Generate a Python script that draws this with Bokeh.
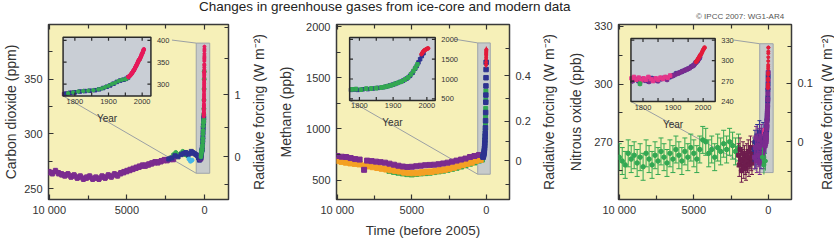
import json
from bokeh.plotting import figure
from bokeh.models import Range1d, LinearAxis, FixedTicker, CustomJSTickFormatter, Div
from bokeh.layouts import row, column
from bokeh.embed import file_html
from bokeh.resources import INLINE

FONT = "Liberation Sans"

# ---------------- ticks / labels ----------------
time_ticks = [10000, 5000, 0]
time_labels = ["10 000", "5000", "0"]
time_minor = [7500, 2500]
year_ticks = [1800, 1900, 2000]
year_minor = [1850, 1950]

co2_ticks = [250, 300, 350]
co2_minor = [275, 325, 375]
co2_rf_pos = [279, 336]
co2_rf_labels = ["0", "1"]
co2_rf_minor = [254, 306, 369, 397]
co2_inset_ticks = [300, 350, 400]

ch4_ticks = [500, 1000, 1500, 2000]
ch4_minor = [750, 1250, 1750]
ch4_rf_pos = [690, 1075, 1520]
ch4_rf_labels = ["0", "0.2", "0.4"]
ch4_rf_minor = [455, 880, 1300, 1785]
ch4_inset_ticks = [500, 1000, 1500, 2000]

n2o_ticks = [270, 300, 330]
n2o_minor = [255, 285, 315]
n2o_rf_pos = [270, 300.5]
n2o_rf_labels = ["0", "0.1"]
n2o_rf_minor = [254.7, 285.3, 319.8]
n2o_inset_ticks = [240, 270, 300, 330]

RF_TITLE = "Radiative forcing (W m\u207b\u00b2)"

# ---------------- CO2 data ----------------
co2_ice_purple_bp = [10000, 9800, 9600, 9400, 9200, 9000, 8800, 8600, 8400, 8200, 8000, 7800, 7600, 7400,
                     7200, 7000, 6800, 6600, 6400, 6200, 6000, 5800, 5600, 5400, 5200, 5000, 4800, 4600,
                     4400, 4200, 4000, 3800, 3600, 3400, 3200, 3000, 2800, 2600, 2400, 2200, 2000]
co2_ice_purple = [265, 264, 266, 264, 263, 262, 263, 261, 262, 260, 261, 259, 260, 261, 259, 260, 259, 261,
                  260, 262, 261, 263, 262, 264, 265, 266, 267, 268, 269, 270, 271, 271, 272, 273, 274, 274,
                  275, 276, 276, 277, 277]
co2_ice_blue_bp = [2300, 2100, 1900, 1700, 1500, 1350, 1200, 1050, 950, 850, 750, 650, 550, 450, 380, 320, 270]
co2_ice_blue = [277, 278, 280, 279, 281, 282, 283, 281, 282, 284, 283, 282, 281, 280, 278, 276, 277]
co2_ice_green_bp = [2200, 2000, 1850, 1700, 1550, 1400, 1250, 1100]
co2_ice_green = [278, 281, 283, 280, 282, 284, 281, 280]
co2_ice_cyan_bp = [1000, 900, 800]
co2_ice_cyan = [277, 275, 276]

co2_purple_yr = [1768, 1775, 1782, 1790, 1797]
co2_purple = [277, 278, 279, 280, 281]
co2_green_yr = [1780, 1795, 1810, 1825, 1840, 1855, 1870, 1880, 1890, 1900, 1910, 1920, 1930, 1940, 1950,
                1955, 1962, 1968, 1975, 1982, 1988, 1993]
co2_green = [279, 281, 283, 284, 285, 286, 288, 290, 293, 296, 300, 303, 307, 310, 311, 313, 318, 323, 331,
             341, 350, 357]
co2_blue_yr = [1772, 1785, 1800, 1815, 1830, 1845, 1860, 1872, 1884, 1895, 1905, 1915, 1925, 1935, 1945, 1952, 1958]
co2_blue = [278, 280, 281, 283, 284, 285, 286, 288, 291, 294, 297, 301, 305, 308, 310, 312, 315]
co2_red_yr = [1959, 1960, 1961, 1962, 1963, 1964, 1965, 1966, 1967, 1968, 1969, 1970, 1971, 1972, 1973, 1974,
              1975, 1976, 1977, 1978, 1979, 1980, 1981, 1982, 1983, 1984, 1985, 1986, 1987, 1988, 1989, 1990,
              1991, 1992, 1993, 1994, 1995, 1996, 1997, 1998, 1999, 2000, 2001, 2002, 2003, 2004, 2005]
co2_red = [316.0, 316.9, 317.6, 318.5, 319.0, 319.6, 320.0, 321.4, 322.2, 323.0, 324.6, 325.7, 326.3, 327.5,
           329.7, 330.2, 331.1, 332.0, 333.8, 335.4, 336.8, 338.7, 340.1, 341.4, 343.0, 344.6, 346.0, 347.4,
           349.2, 351.6, 353.1, 354.4, 355.6, 356.4, 357.1, 358.8, 360.8, 362.6, 363.7, 366.7, 368.4, 369.6,
           371.1, 373.2, 375.8, 377.5, 379.8]

# ---------------- CH4 data ----------------
ch4_purple_bp = [10000, 9700, 9400, 9100, 8800, 8500, 8200, 8000, 7700, 7400, 7100, 6800, 6500, 6200, 5900,
                 5600, 5300, 5000, 4700, 4400, 4100, 3800, 3500, 3200, 2900, 2600, 2300, 2000, 1700, 1400,
                 1100, 800, 500]
ch4_purple = [735, 728, 725, 715, 705, 700, 600, 690, 685, 680, 675, 670, 660, 650, 640, 632, 628, 630, 635,
              640, 645, 648, 650, 655, 662, 670, 680, 690, 700, 710, 725, 735, 745]
ch4_orange_bp = [10000, 9700, 9400, 9100, 8800, 8500, 8200, 7900, 7600, 7300, 7000, 6700, 6400, 6100, 5800,
                 5500, 5200, 4900, 4600, 4300, 4000, 3700, 3400, 3100, 2800, 2500, 2200, 1900, 1600, 1300,
                 1000, 700, 400]
ch4_orange = [690, 680, 672, 665, 660, 655, 640, 635, 628, 620, 612, 605, 598, 592, 585, 575, 570, 568, 570,
              575, 580, 582, 588, 595, 602, 612, 622, 635, 648, 660, 672, 690, 700]
ch4_green_bp = [6500, 6200, 5900, 5600, 5300, 5000, 4700, 4400, 4100, 3800, 3500, 3200, 2900, 2600, 2300,
                2000, 1700, 1400, 1100, 800, 500, 300]
ch4_green = [590, 580, 572, 565, 558, 555, 560, 565, 568, 572, 578, 585, 592, 600, 610, 620, 632, 645, 660,
             672, 690, 700]
ch4_blue_yr = [1775, 1785, 1795, 1810, 1825, 1840, 1855, 1870, 1880, 1890, 1900, 1910, 1920, 1930, 1940,
               1950, 1958, 1965, 1970, 1975, 1980, 1985, 1990]
ch4_blue = [725, 735, 725, 740, 745, 760, 775, 790, 810, 835, 860, 890, 925, 960, 1010, 1080, 1160, 1260,
            1330, 1420, 1500, 1580, 1650]
ch4_green_yr = [1778, 1790, 1805, 1820, 1835, 1850, 1865, 1875, 1885, 1895, 1905, 1915, 1925, 1935, 1945,
                1953, 1960, 1966, 1972]
ch4_green_m = [740, 745, 730, 755, 760, 770, 785, 800, 820, 845, 875, 905, 940, 985, 1040, 1120, 1200, 1280, 1370]
ch4_red_yr = [1984, 1986, 1988, 1990, 1992, 1994, 1996, 1998, 2000, 2002, 2004]
ch4_red = [1625, 1650, 1680, 1700, 1720, 1730, 1740, 1750, 1760, 1770, 1775]

# ---------------- N2O data ----------------
n2o_green_bp = [10000, 9800, 9600, 9400, 9200, 9000, 8800, 8600, 8400, 8200, 8000, 7800, 7600, 7400, 7200,
                7000, 6800, 6600, 6400, 6200, 6000, 5800, 5600, 5400, 5200, 5000, 4800, 4600, 4400, 4200,
                4000, 3800, 3600, 3400, 3200, 3000, 2800, 2600, 2400, 2200, 2000]
n2o_green = [262, 260, 258, 264, 261, 263, 259, 262, 257, 264, 261, 258, 263, 260, 265, 262, 259, 264, 261,
             266, 263, 260, 265, 262, 267, 264, 261, 266, 271, 270, 264, 266, 262, 267, 265, 269, 266, 270,
             268, 265, 267]
n2o_maroon_bp = [2000, 1950, 1900, 1850, 1800, 1750, 1700, 1650, 1600, 1550, 1500, 1450, 1400, 1350, 1300,
                 1250, 1200, 1150, 1100, 1050]
n2o_maroon = [263, 258, 266, 261, 255, 260, 264, 257, 262, 259, 256, 263, 260, 265, 258, 262, 267, 261, 259, 264]
n2o_blue_bp = [950, 900, 850, 800, 750, 700, 650, 600, 550, 500, 450, 400, 350, 300, 250]
n2o_blue = [266, 270, 262, 268, 273, 264, 270, 275, 266, 262, 271, 268, 274, 265, 270]
n2o_purple_bp = [925, 875, 825, 775, 725, 675, 625, 575, 525, 475, 425, 375, 325, 275]
n2o_purple = [262, 267, 272, 260, 268, 263, 271, 259, 267, 273, 264, 270, 262, 268]
n2o_green2_bp = [400, 300, 200]
n2o_green2 = [262, 258, 260]

n2o_pink_yr = [1762, 1770, 1778, 1786, 1794, 1802, 1810, 1818, 1826, 1834, 1842, 1850, 1858, 1866, 1874, 1882, 1890]
n2o_pink = [274, 276, 272, 275, 271, 274, 272, 276, 273, 270, 274, 272, 275, 273, 276, 275, 278]
n2o_purple_yr = [1765, 1775, 1790, 1805, 1820, 1835, 1850, 1865, 1880, 1895, 1905, 1915, 1925, 1935, 1945,
                 1955, 1965, 1972, 1978, 1985, 1990]
n2o_purple_m = [270, 273, 268, 271, 269, 272, 270, 274, 272, 277, 279, 281, 283, 285, 287, 289, 292, 295, 298,
                302, 306]
n2o_blue_yr = [1770, 1785, 1800, 1815, 1830, 1845, 1860, 1875, 1890, 1900, 1910, 1920, 1930, 1940, 1950,
               1960, 1968, 1975, 1982, 1988]
n2o_blue_m = [272, 270, 273, 270, 274, 271, 273, 275, 276, 278, 281, 282, 284, 286, 288, 291, 293, 297, 300, 304]
n2o_green_m_yr = [1790]
n2o_green_m = [266]
n2o_red_yr = [1976, 1978, 1980, 1982, 1984, 1986, 1988, 1990, 1992, 1994, 1996, 1998, 2000, 2002, 2004, 2005]
n2o_red = [298, 299, 300, 302, 303, 305, 306, 308, 309, 310, 312, 314, 316, 317, 319, 319]

# ---------------- style / layout constants ----------------
YELLOW = "#f6f0b8"
INSET_BG = "#c9ced5"
BOX_BG = "#c2c7cd"
BOX_LINE = "#9ea4aa"
CONN = "#9ba0a4"
PURPLE = "#7b2c8f"
BLUE = "#2d3290"
GREEN = "#33a852"
CYAN = "#45b6e6"
RED = "#e6195a"
RED2 = "#e31b3a"
ORANGE = "#f4a024"
MAROON = "#6e1d4e"
PINK = "#e5368a"
INK = "#333333"

FRAME_W = 180
TOP = 3
BOTTOM = 37
FRAME_H = 179
H = TOP + FRAME_H + BOTTOM
HEADER_H = 21
X_START, X_END = 10050, -1550


def lookup_formatter(pos, labels):
    code = ("const pos = " + json.dumps(pos) + "; const lab = " + json.dumps(labels) + ";"
            "let b = 0, d = Infinity;"
            "for (let i = 0; i < pos.length; i++) { const e = Math.abs(pos[i] - tick); if (e < d) { d = e; b = i; } }"
            "return lab[b];")
    return CustomJSTickFormatter(code=code)


def style_axis(ax, fs="11px"):
    ax.axis_line_color = None
    ax.major_tick_in = 5
    ax.major_tick_out = 0
    ax.minor_tick_in = 4
    ax.minor_tick_out = 0
    ax.major_tick_line_color = INK
    ax.minor_tick_line_color = INK
    ax.major_tick_line_width = 1.2
    ax.minor_tick_line_width = 1.2
    ax.major_label_text_font = FONT
    ax.major_label_text_font_size = fs
    ax.major_label_text_color = INK
    ax.axis_label_text_font = FONT
    ax.axis_label_text_font_style = "normal"
    ax.axis_label_text_font_size = "14px"
    ax.axis_label_text_color = INK


def title_only_axis(label, standoff):
    """An axis that carries only a vertical title (reading bottom to top)."""
    ax = LinearAxis(ticker=FixedTicker(ticks=[]))
    style_axis(ax)
    ax.major_tick_in = 0
    ax.minor_tick_in = 0
    ax.major_tick_line_color = None
    ax.minor_tick_line_color = None
    ax.major_label_standoff = 0
    ax.axis_label = label
    ax.axis_label_standoff = standoff
    return ax


def make_panel(width, bl, br, yr, yticks, yminor, ylabel, lstand, rf_pos, rf_labels, rf_minor,
               prev_rf_standoff=None, xlabel=None):
    p = figure(width=width, height=H, x_range=Range1d(X_START, X_END), y_range=Range1d(*yr),
               output_backend="svg", toolbar_location=None,
               min_border_left=bl, min_border_right=br, min_border_top=TOP, min_border_bottom=BOTTOM)
    p.background_fill_color = YELLOW
    p.border_fill_color = "white"
    p.outline_line_color = "#3a3a3a"
    p.outline_line_width = 1.5
    p.grid.visible = False

    xa = p.xaxis[0]
    xa.ticker = FixedTicker(ticks=time_ticks, minor_ticks=time_minor)
    xa.formatter = lookup_formatter(time_ticks, time_labels)
    style_axis(xa)
    xa.major_label_standoff = 4
    if xlabel:
        xa.axis_label = xlabel
        xa.axis_label_standoff = 4
        xa.axis_label_text_font_size = "13.5px"

    ya = p.yaxis[0]
    ya.ticker = FixedTicker(ticks=yticks, minor_ticks=yminor)
    style_axis(ya)
    ya.major_label_standoff = 6
    ya.axis_label = ylabel
    ya.axis_label_standoff = lstand

    # title of the neighbouring panel's radiative-forcing axis (sits just left of this panel)
    if prev_rf_standoff is not None:
        p.add_layout(title_only_axis(RF_TITLE, prev_rf_standoff), "left")

    ra = LinearAxis(ticker=FixedTicker(ticks=rf_pos, minor_ticks=rf_minor),
                    formatter=lookup_formatter(rf_pos, rf_labels))
    style_axis(ra)
    ra.major_label_standoff = 6
    p.add_layout(ra, "right")

    ta = LinearAxis(ticker=FixedTicker(ticks=time_ticks, minor_ticks=time_minor))
    style_axis(ta)
    ta.major_label_text_font_size = "1px"
    ta.major_label_text_color = None
    ta.major_label_standoff = 0
    p.add_layout(ta, "above")
    return p


def pts(p, x, y, color, err=0, size=4, marker="square", rx="default", ry="default", cap=0, lw=1, alpha=1.0):
    x = list(x)
    if err:
        lo = [v - err for v in y]
        hi = [v + err for v in y]
        p.segment(x0=x, y0=lo, x1=x, y1=hi, line_color=color, line_width=lw, line_alpha=alpha,
                  x_range_name=rx, y_range_name=ry)
        if cap:
            p.scatter(x=x + x, y=lo + hi, marker="dash", size=cap, line_color=color, line_width=lw,
                      line_alpha=alpha, x_range_name=rx, y_range_name=ry)
    p.scatter(x=x, y=list(y), marker=marker, size=size, fill_color=color, line_color=color,
              fill_alpha=alpha, line_alpha=alpha, x_range_name=rx, y_range_name=ry)


def bp(years):
    return [2005 - y for y in years]


def setup_inset(p, box, xr, yr):
    fx0, fx1, fy0, fy1 = box
    X0, X1 = xr
    Y0, Y1 = yr
    kx = (X1 - X0) / (fx1 - fx0)
    sx = X0 - fx0 * kx
    ky = (Y1 - Y0) / (fy1 - fy0)
    sy = Y0 - fy0 * ky
    p.extra_x_ranges = {"ix": Range1d(sx, sx + kx), "fx": Range1d(0, 1)}
    p.extra_y_ranges = {"iy": Range1d(sy, sy + ky), "fy": Range1d(0, 1)}


def frac_x(v):
    return (X_START - v) / (X_START - X_END)


def gray_box_and_links(p, yr, gbox, box, link_start):
    bx0, bx1, by0, by1 = gbox
    p.quad(left=[bx0], right=[bx1], bottom=[by0], top=[by1], fill_color=BOX_BG, fill_alpha=0.9,
           line_color=BOX_LINE, line_width=1)
    gy0 = (by0 - yr[0]) / (yr[1] - yr[0])
    gy1 = (by1 - yr[0]) / (yr[1] - yr[0])
    gx0 = frac_x(bx0)
    fx0, fx1, fy0, fy1 = box
    p.segment(x0=[link_start[0], fx0], y0=[link_start[1], fy0], x1=[gx0, gx0], y1=[gy1, gy0],
              line_color=CONN, line_width=1, x_range_name="fx", y_range_name="fy")


def inset_frame(p, box, xr, yr, yt, fill=True):
    X0, X1 = xr
    Y0, Y1 = yr
    if fill:
        p.quad(left=[X0], right=[X1], bottom=[Y0], top=[Y1], fill_color=INSET_BG, line_color=None,
               x_range_name="ix", y_range_name="iy")
        return
    p.quad(left=[X0], right=[X1], bottom=[Y0], top=[Y1], fill_color=None, line_color="#2a2a2a",
           line_width=1.5, x_range_name="ix", y_range_name="iy")
    fx0, fx1, fy0, fy1 = box
    pxw = (fx1 - fx0) * FRAME_W
    pxh = (fy1 - fy0) * FRAME_H
    tx = 3.5 * (X1 - X0) / pxw
    ty = 3.5 * (Y1 - Y0) / pxh
    xt = year_ticks + year_minor
    p.segment(x0=xt + xt, y0=[Y0] * len(xt) + [Y1] * len(xt), x1=xt + xt,
              y1=[Y0 + ty] * len(xt) + [Y1 - ty] * len(xt), line_color="#2a2a2a", line_width=1.2,
              x_range_name="ix", y_range_name="iy")
    yin = [v for v in yt if Y0 < v < Y1]
    p.segment(x0=[X0] * len(yin) + [X1] * len(yin), y0=yin + yin,
              x1=[X0 + tx] * len(yin) + [X1 - tx] * len(yin), y1=yin + yin,
              line_color="#2a2a2a", line_width=1.2, x_range_name="ix", y_range_name="iy")
    p.text(x=[X1] * len(yt), y=yt, text=[str(v) for v in yt], x_offset=6, text_align="left",
           text_baseline="middle", text_font_size="7.5px", text_color=INK, text_font={"value": FONT},
           x_range_name="ix", y_range_name="iy")
    p.text(x=year_ticks, y=[Y0] * len(year_ticks), text=[str(v) for v in year_ticks], y_offset=3,
           text_align="center", text_baseline="top", text_font_size="7.5px", text_color=INK,
           text_font={"value": FONT}, x_range_name="ix", y_range_name="iy")
    p.text(x=[(X0 + X1) / 2], y=[Y0], text=["Year"], y_offset=17, text_align="center", text_baseline="top",
           text_font_size="10px", text_color=INK, text_font={"value": FONT},
           x_range_name="ix", y_range_name="iy")


# ================= Panel 1: CO2 =================
co2_yr = (240, 400)
co2_box = (0.081, 0.569, 0.592, 0.927)
co2_ix = (1765, 2026)
co2_iy = (273, 407)
p1 = make_panel(247, 48, 19, co2_yr, co2_ticks, co2_minor, "Carbon dioxide (ppm)", 2,
                co2_rf_pos, co2_rf_labels, co2_rf_minor)
setup_inset(p1, co2_box, co2_ix, co2_iy)
gray_box_and_links(p1, co2_yr, (530, -340, 264, 383), co2_box, (0.686, 0.911))
pts(p1, co2_ice_purple_bp, co2_ice_purple, PURPLE, err=2.5, size=4.5, cap=4)
pts(p1, co2_ice_green_bp, co2_ice_green, GREEN, err=1.5, size=4, marker="circle")
pts(p1, co2_ice_blue_bp, co2_ice_blue, BLUE, err=1.5, size=4)
pts(p1, co2_ice_cyan_bp, co2_ice_cyan, CYAN, size=4, marker="circle")
pts(p1, bp(co2_purple_yr), co2_purple, PURPLE, size=4)
pts(p1, bp(co2_blue_yr), co2_blue, BLUE, err=1.5, size=4)
pts(p1, bp(co2_green_yr), co2_green, GREEN, err=1.5, size=4, marker="circle")
pts(p1, bp(co2_red_yr), co2_red, RED, size=3, marker="circle")
inset_frame(p1, co2_box, co2_ix, co2_iy, co2_inset_ticks, fill=True)
pts(p1, co2_purple_yr, co2_purple, PURPLE, size=3.5, rx="ix", ry="iy")
pts(p1, co2_blue_yr, co2_blue, BLUE, err=1.5, size=3.5, rx="ix", ry="iy")
pts(p1, co2_green_yr, co2_green, GREEN, err=1.5, size=3.5, marker="circle", rx="ix", ry="iy")
pts(p1, co2_red_yr, co2_red, RED, size=3.5, marker="circle", rx="ix", ry="iy")
inset_frame(p1, co2_box, co2_ix, co2_iy, co2_inset_ticks, fill=False)

# ================= Panel 2: CH4 =================
ch4_yr = (310, 2020)
ch4_box = (0.076, 0.571, 0.566, 0.926)
ch4_ix = (1771, 2025)
ch4_iy = (458, 2050)
p2 = make_panel(290, 82, 28, ch4_yr, ch4_ticks, ch4_minor, "Methane (ppb)", 9,
                ch4_rf_pos, ch4_rf_labels, ch4_rf_minor, prev_rf_standoff=9, xlabel="Time (before 2005)")
setup_inset(p2, ch4_box, ch4_ix, ch4_iy)
gray_box_and_links(p2, ch4_yr, (580, -260, 557, 1840), ch4_box, (0.683, 0.916))
pts(p2, ch4_green_bp, ch4_green, GREEN, err=12, size=5)
pts(p2, ch4_orange_bp, ch4_orange, ORANGE, err=18, size=5.5)
pts(p2, ch4_purple_bp, ch4_purple, PURPLE, err=12, size=5, cap=4)
pts(p2, bp(ch4_green_yr), ch4_green_m, GREEN, err=20, size=4)
pts(p2, bp(ch4_blue_yr), ch4_blue, BLUE, err=15, size=4.5)
pts(p2, bp(ch4_red_yr), ch4_red, RED2, err=30, size=3, marker="circle")
inset_frame(p2, ch4_box, ch4_ix, ch4_iy, ch4_inset_ticks, fill=True)
pts(p2, ch4_blue_yr, ch4_blue, BLUE, err=15, size=3.5, rx="ix", ry="iy")
pts(p2, ch4_green_yr, ch4_green_m, GREEN, err=45, size=3.5, cap=3, rx="ix", ry="iy")
pts(p2, ch4_red_yr, ch4_red, RED2, err=20, size=3.5, marker="circle", rx="ix", ry="iy")
inset_frame(p2, ch4_box, ch4_ix, ch4_iy, ch4_inset_ticks, fill=False)

# ================= Panel 3: N2O =================
n2o_yr = (240, 331)
n2o_box = (0.072, 0.559, 0.560, 0.920)
n2o_ix = (1760, 2040)
n2o_iy = (240, 332.4)
p3 = make_panel(278, 74, 24, n2o_yr, n2o_ticks, n2o_minor, "Nitrous oxide (ppb)", 7,
                n2o_rf_pos, n2o_rf_labels, n2o_rf_minor, prev_rf_standoff=9)
setup_inset(p3, n2o_box, n2o_ix, n2o_iy)
gray_box_and_links(p3, n2o_yr, (580, -320, 254, 321), n2o_box, (0.667, 0.911))
pts(p3, n2o_green_bp, n2o_green, GREEN, err=7, size=4.5, marker="circle", cap=5)
pts(p3, n2o_maroon_bp, n2o_maroon, MAROON, err=6, size=4, cap=4)
pts(p3, n2o_blue_bp, n2o_blue, BLUE, err=6, size=4, cap=4)
pts(p3, n2o_purple_bp, n2o_purple, PURPLE, err=6, size=4, cap=4)
pts(p3, n2o_green2_bp, n2o_green2, GREEN, err=5, size=4, marker="circle")
pts(p3, bp(n2o_pink_yr), n2o_pink, PINK, err=4, size=4)
pts(p3, bp(n2o_blue_yr), n2o_blue_m, BLUE, err=4, size=4)
pts(p3, bp(n2o_purple_yr), n2o_purple_m, PURPLE, err=4, size=4)
pts(p3, bp(n2o_red_yr), n2o_red, RED2, size=3, marker="circle")
inset_frame(p3, n2o_box, n2o_ix, n2o_iy, n2o_inset_ticks, fill=True)
pts(p3, n2o_blue_yr, n2o_blue_m, BLUE, err=4, size=3.5, rx="ix", ry="iy")
pts(p3, n2o_purple_yr, n2o_purple_m, PURPLE, err=4, size=3.5, rx="ix", ry="iy")
pts(p3, n2o_pink_yr, n2o_pink, PINK, err=3, size=3.5, rx="ix", ry="iy")
pts(p3, n2o_green_m_yr, n2o_green_m, GREEN, err=4, size=3.5, rx="ix", ry="iy")
pts(p3, n2o_red_yr, n2o_red, RED2, size=3.5, marker="circle", rx="ix", ry="iy")
inset_frame(p3, n2o_box, n2o_ix, n2o_iy, n2o_inset_ticks, fill=False)

# ================= narrow strip carrying the last radiative-forcing title =================
p4 = figure(width=19, height=H, x_range=Range1d(0, 1), y_range=Range1d(0, 1), output_backend="svg",
            toolbar_location=None, x_axis_location=None, min_border_left=18, min_border_right=0,
            min_border_top=TOP, min_border_bottom=BOTTOM)
p4.outline_line_color = None
p4.grid.visible = False
p4.background_fill_color = "white"
p4.border_fill_color = "white"
p4.yaxis[0].visible = False
p4.add_layout(title_only_axis(RF_TITLE, 0), "left")

# ================= title =================
title_html = (
    '<div style="position:relative;width:834px;height:21px;font-family:\'Liberation Sans\',sans-serif;">'
    '<span style="position:absolute;left:199px;top:0px;font-size:13.5px;line-height:14px;'
    'white-space:nowrap;color:#222;">Changes in greenhouse gases from ice-core and modern data</span>'
    '<span style="position:absolute;left:696px;top:12px;font-size:8px;line-height:9px;'
    'white-space:nowrap;color:#555;">\u00a9 IPCC 2007: WG1-AR4</span></div>'
)
header = Div(text=title_html, width=834, height=HEADER_H, margin=0)

layout = column(header, row(p1, p2, p3, p4, spacing=0), spacing=0)

with open("out.html", "w") as f:
    f.write(file_html(layout, INLINE))
